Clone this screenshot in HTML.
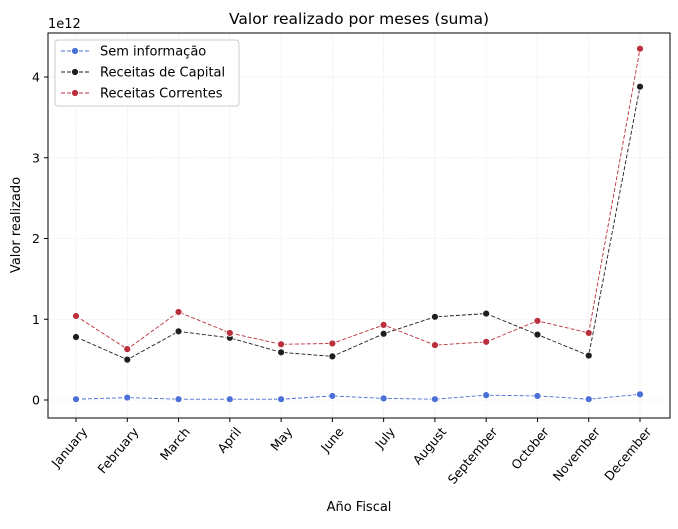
<!DOCTYPE html>
<html><head><meta charset="utf-8"><style>
body{margin:0;background:#fff;font-family:"Liberation Sans","DejaVu Sans",sans-serif;}
svg text{font-family:"DejaVu Sans","Liberation Sans",sans-serif;}
</style></head><body>
<svg id="chart" width="678" height="524" xmlns="http://www.w3.org/2000/svg"></svg>
<script>
const months=["January","February","March","April","May","June","July","August","September","October","November","December"];
const semInfo=[0.01,0.03,0.01,0.01,0.01,0.05,0.02,0.01,0.06,0.05,0.01,0.07];
const capital=[0.78,0.50,0.85,0.77,0.59,0.54,0.82,1.03,1.07,0.81,0.55,3.88];
const correntes=[1.04,0.63,1.09,0.83,0.69,0.70,0.93,0.68,0.72,0.98,0.83,4.35];
const yTicks=[0,1,2,3,4];
const seriesNames=["Sem informação","Receitas de Capital","Receitas Correntes"];
const seriesColors=["#4a6fd6","#1e1e1e","#bb2f3c"];

const svg=document.getElementById('chart');
const NS="http://www.w3.org/2000/svg";
const L=48,R=670,T=33,B=418;
const x=i=>76+i*(640-76)/(months.length-1);
const y=v=>400-v*80.75;
function mk(tag,attrs,parent){const e=document.createElementNS(NS,tag);for(const k in attrs)e.setAttribute(k,attrs[k]);(parent||svg).appendChild(e);return e;}

const grid=mk('g',{});


months.forEach((m,i)=>{mk('line',{x1:x(i),x2:x(i),y1:T,y2:B,stroke:'#e2e2e2','stroke-width':0.6,'stroke-dasharray':'1.5,1'},grid);});
yTicks.forEach(v=>{mk('line',{x1:L,x2:R,y1:y(v),y2:y(v),stroke:'#e2e2e2','stroke-width':0.6,'stroke-dasharray':'1.5,1'},grid);});

const frame=mk('rect',{x:L,y:T,width:R-L,height:B-T,fill:'none',stroke:'#000','stroke-width':1});



yTicks.forEach(v=>{
  mk('line',{x1:L-4,x2:L,y1:y(v),y2:y(v),stroke:'#000'});
  const t=mk('text',{x:L-8,y:y(v)+4.5,'text-anchor':'end','font-size':12.5});
  t.textContent=v;
  
  
});
months.forEach((m,i)=>{
  mk('line',{x1:x(i),x2:x(i),y1:B,y2:B+4,stroke:'#000'});
  const ax=x(i)+12, ay=B+14;
  const t=mk('text',{x:ax,y:ay,'text-anchor':'end','font-size':12.5,transform:`rotate(-50 ${ax} ${ay})`});
  t.textContent=m;
  
  
});

[semInfo,capital,correntes].forEach((s,si)=>{
  const g=mk('g',{});
  
  
  mk('polyline',{points:s.map((v,i)=>x(i)+','+y(v)).join(' '),fill:'none',stroke:seriesColors[si],'stroke-width':0.9,'stroke-dasharray':'4,2'},g);
  s.forEach((v,i)=>{
    const c=mk('circle',{cx:x(i),cy:y(v),r:3.5,fill:seriesColors[si],stroke:'#fff','stroke-width':0.8},g);
    
    
  });
});

const lg=mk('g',{});


mk('rect',{x:55,y:40,width:184,height:66,rx:3,fill:'#fff',stroke:'#ccc'},lg);
seriesNames.forEach((n,i)=>{
  const yy=51+i*21;
  mk('line',{x1:61,x2:89,y1:yy,y2:yy,stroke:seriesColors[i],'stroke-width':0.9,'stroke-dasharray':'4,2'},lg);
  mk('circle',{cx:75,cy:yy,r:3.5,fill:seriesColors[i],stroke:'#fff','stroke-width':0.8},lg);
  const t=mk('text',{x:100,y:yy+4.5,'font-size':13},lg);
  t.textContent=n;
  
  
});

const title=mk('text',{x:359,y:24,'text-anchor':'middle','font-size':15.5});
title.textContent='Valor realizado por meses (suma)';


const exp=mk('text',{x:48,y:28,'font-size':13});
exp.textContent='1e12';


const yl=mk('text',{x:20,y:225,'text-anchor':'middle','font-size':13,transform:'rotate(-90 20 225)'});
yl.textContent='Valor realizado';


const xl=mk('text',{x:359,y:511,'text-anchor':'middle','font-size':13});
xl.textContent='Año Fiscal';


</script>
</body></html>
